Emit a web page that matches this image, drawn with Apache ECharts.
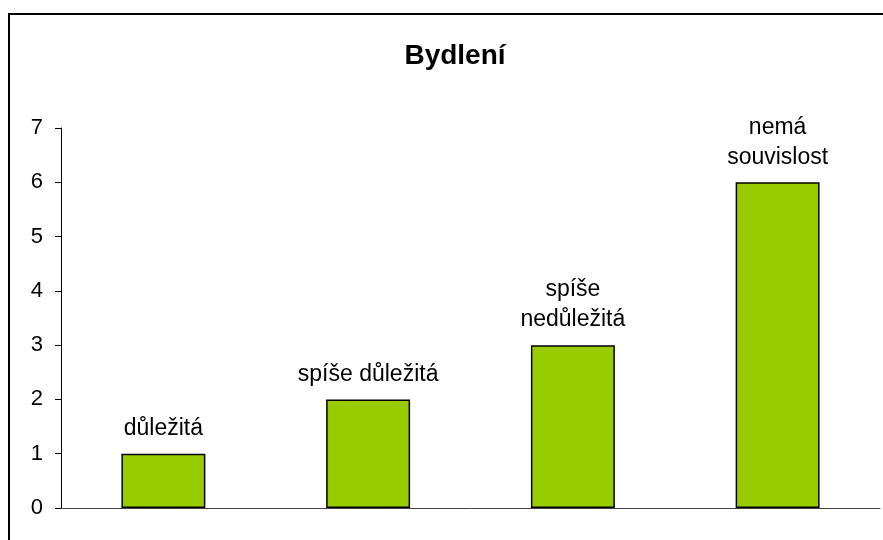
<!DOCTYPE html>
<html>
<head>
<meta charset="utf-8">
<script src="https://cdn.jsdelivr.net/npm/echarts@6/dist/echarts.min.js"></script>
<style>html,body{margin:0;padding:0;background:#fff}#c{width:883px;height:540px}</style>
</head>
<body>
<div id="c"></div>
<script>
const titleText = "Bydlení";
const categories = ["důležitá", "spíše důležitá", "spíše nedůležitá", "nemá souvislost"];
const barLabels = ["důležitá", "spíše důležitá", "spíše\nnedůležitá", "nemá\nsouvislost"];
const values = [1, 2, 3, 6];
const yTicks = [0, 1, 2, 3, 4, 5, 6, 7];

const chart = echarts.init(document.getElementById('c'), null, {renderer: 'canvas'});
const font = "'Liberation Sans', Arial, sans-serif";
chart.setOption({
  animation: false,
  backgroundColor: '#fff',
  textStyle: {fontFamily: font},
  title: {
    text: titleText,
    left: 450,
    textAlign: 'center',
    top: 37,
    textStyle: {fontFamily: font, fontWeight: 'bold', fontSize: 28, color: '#000'}
  },
  graphic: [{
    type: 'rect',
    shape: {x: 9, y: 14, width: 1000, height: 1000},
    style: {fill: 'none', stroke: '#000', lineWidth: 2},
    silent: true
  }],
  grid: {left: 61, right: 3, top: 128, bottom: 32, containLabel: false},
  xAxis: {
    type: 'category',
    data: categories,
    axisLine: {show: true, lineStyle: {color: '#444', width: 1}},
    axisTick: {show: false},
    axisLabel: {show: false},
    splitLine: {show: false}
  },
  yAxis: {
    type: 'value',
    min: yTicks[0],
    max: yTicks[yTicks.length - 1],
    interval: 1,
    axisLine: {show: true, lineStyle: {color: '#000', width: 1}},
    axisTick: {show: true, length: 6, lineStyle: {color: '#000'}},
    axisLabel: {margin: 18, color: '#000', fontSize: 22, fontFamily: font},
    splitLine: {show: false}
  },
  series: [{
    type: 'bar',
    data: values.map((v, i) => ({value: v, label: {formatter: barLabels[i]}})),
    barWidth: '41%',
    itemStyle: {color: '#99CC00', borderColor: '#000', borderWidth: 1.5},
    label: {
      show: true,
      position: 'top',
      distance: 10,
      color: '#000',
      fontSize: 23,
      lineHeight: 30,
      fontFamily: font,
      align: 'center'
    }
  }]
});
</script>
</body>
</html>
